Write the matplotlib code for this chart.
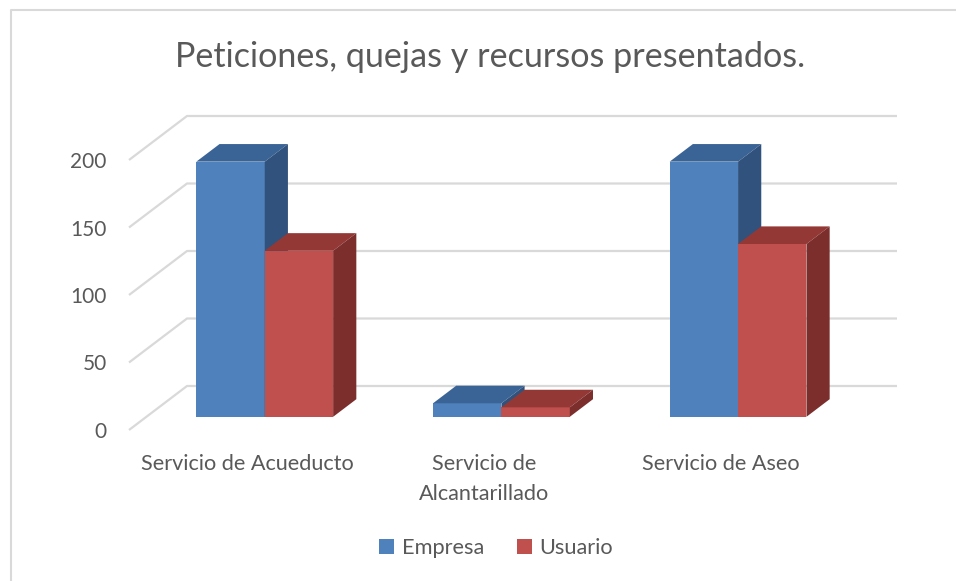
import matplotlib
matplotlib.use("Agg")
import matplotlib.pyplot as plt
from matplotlib.patches import Polygon, Patch
from matplotlib.lines import Line2D

plt.rcParams['font.family'] = ['Lato', 'DejaVu Sans']

# ---- data ----
title = "Peticiones, quejas y recursos presentados."
categories = ["Servicio de Acueducto", "Servicio de\nAlcantarillado", "Servicio de Aseo"]
series_names = ["Empresa", "Usuario"]
empresa = [189, 10, 189]
usuario = [123, 7, 128]
y_ticks = [0, 50, 100, 150, 200]

# ---- style ----
TEXT = "#595959"
GRID = "#D9D9D9"
front_cols = ["#4F81BD", "#C0504D"]
top_cols = ["#3B6496", "#943836"]
side_cols = ["#30527C", "#7B2E2C"]

W, H, DPI = 956, 581, 100
fig = plt.figure(figsize=(W / DPI, H / DPI), dpi=DPI)
fig.patch.set_facecolor("white")

# plot axes: front plane x 129..839 px (3 categories), y 0 at 430 px, 200 at 160 px
px_per_cat = (839 - 129) / 3.0
px_per_unit = (430 - 160) / 200.0
depth_dx = 58 / px_per_cat      # in category units
depth_dy = 44 / px_per_unit     # in value units
left_px, right_px, bottom_px, top_px = 129, 897, 430, 116
ax = fig.add_axes([left_px / W, 1 - bottom_px / H, (right_px - left_px) / W, (bottom_px - top_px) / H])
ax.set_xlim(0, (right_px - left_px) / px_per_cat)
ax.set_ylim(0, (bottom_px - top_px) / px_per_unit)
for s in ax.spines.values():
    s.set_visible(False)
ax.set_facecolor("none")

ncat = len(categories)
# gridlines (floor + walls)
for v in y_ticks:
    ax.plot([0, depth_dx, ncat + depth_dx], [v, v + depth_dy, v + depth_dy],
            color=GRID, lw=1.6, zorder=1, clip_on=False, solid_capstyle="butt")

# bars
bw = 0.289
f0 = 0.30   # front face depth fraction
bd = 0.40   # bar depth fraction
ox, oy = f0 * depth_dx, f0 * depth_dy
ddx, ddy = bd * depth_dx, bd * depth_dy
for i in range(ncat):
    for j, vals in enumerate([empresa, usuario]):
        v = vals[i]
        x0 = i + 0.5 - bw + j * bw + ox
        x1 = x0 + bw
        b = oy
        t = oy + v
        z = 3 + j
        ax.add_patch(Polygon([(x0, b), (x1, b), (x1, t), (x0, t)], closed=True,
                             facecolor=front_cols[j], edgecolor="none", zorder=z, clip_on=False))
        ax.add_patch(Polygon([(x0, t), (x1, t), (x1 + ddx, t + ddy), (x0 + ddx, t + ddy)], closed=True,
                             facecolor=top_cols[j], edgecolor="none", zorder=z, clip_on=False))
        ax.add_patch(Polygon([(x1, b), (x1 + ddx, b + ddy), (x1 + ddx, t + ddy), (x1, t)], closed=True,
                             facecolor=side_cols[j], edgecolor="none", zorder=z, clip_on=False))

# axes ticks
ax.set_yticks(y_ticks)
ax.set_yticklabels([str(v) for v in y_ticks])
ax.tick_params(axis="y", length=0, pad=16, labelsize=15, labelcolor=TEXT)
ax.set_xticks([i + 0.5 for i in range(ncat)])
ax.set_xticklabels(categories, linespacing=1.67)
ax.tick_params(axis="x", length=0, pad=17, labelsize=15.6, labelcolor=TEXT)

# title
fig.text(490 / W, 1 - 57 / H, title, ha="center", va="center", fontsize=24.6, color=TEXT)

# legend
handles = [Patch(facecolor=front_cols[k], edgecolor="none") for k in range(2)]
fig.legend(handles, series_names, loc="center", bbox_to_anchor=(496 / W, 1 - 548 / H),
           ncol=2, frameon=False, fontsize=15.7, labelcolor=TEXT,
           handlelength=0.7, handleheight=0.7, handletextpad=0.35, columnspacing=1.5)

# chart border (top and left edges visible)
fig.add_artist(Line2D([11 / W, 11 / W, 1.0], [0.0, 1 - 10 / H, 1 - 10 / H],
                      transform=fig.transFigure, color=GRID, lw=1.5))

fig.savefig("out.png", dpi=DPI, facecolor="white")
